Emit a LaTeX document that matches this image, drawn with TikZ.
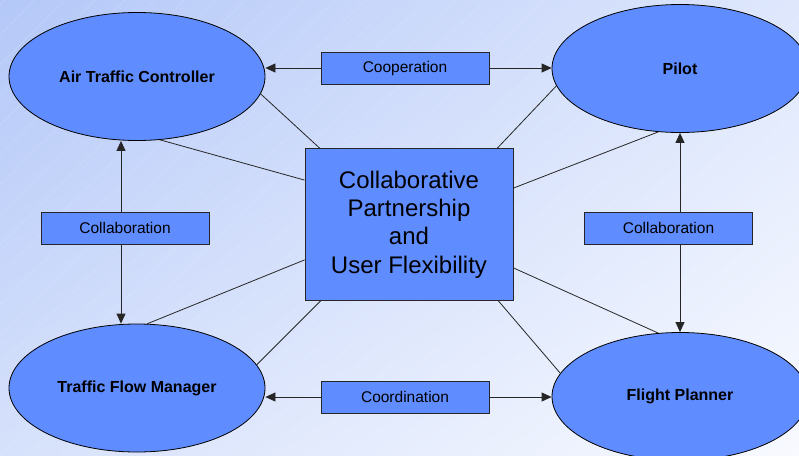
\documentclass[tikz,border=0pt]{standalone}
\usepackage{fontspec}
\setmainfont{Liberation Sans}
\usetikzlibrary{shapes.geometric,arrows.meta,calc,shadings}
\definecolor{nodefill}{RGB}{95,140,255}
\definecolor{bgUL}{RGB}{180,200,248}
\definecolor{bgUR}{RGB}{222,231,252}
\definecolor{bgLL}{RGB}{214,225,251}
\definecolor{bgLR}{RGB}{248,250,255}
\tikzset{
  role/.style={ellipse, draw=black, line width=0.8pt, fill=nodefill, minimum width=256pt, minimum height=128pt, inner sep=0pt, font=\fontsize{16}{18}\selectfont\bfseries},
  relbox/.style={rectangle, draw=black!85, line width=0.8pt, fill=nodefill, minimum width=168pt, minimum height=32pt, inner sep=0pt, font=\fontsize{15.5}{18}\selectfont},
  corebox/.style={rectangle, draw=black!85, line width=0.8pt, fill=nodefill, minimum width=208pt, minimum height=152pt, inner sep=0pt, align=center, font=\fontsize{24}{28.3}\selectfont},
  link/.style={draw=black!85, line width=0.8pt},
  arr/.style={link, -{Triangle[length=10pt,width=9pt]}}
}
\begin{document}
\begin{tikzpicture}[x=1pt,y=-1pt]
\useasboundingbox (0,0) rectangle (799,455);
\clip (0,0) rectangle (799,455);
\shade[upper left=bgUL, upper right=bgUR, lower left=bgLL, lower right=bgLR] (0,0) rectangle (799,455);
% faint diagonal texture
\foreach \k in {-450,-420,...,800}{
  \draw[white, opacity=0.18, line width=0.4pt] (\k,455) -- (\k+455,0);
}
% nodes
\node[role] (atc) at (137,76.5) {Air Traffic Controller};
\node[role] (pilot) at (680,68.5) {Pilot};
\node[role] (tfm) at (137,388) {Traffic Flow Manager};
\node[role] (fp) at (680,396.5) {Flight Planner};
\node[corebox] (ctr) at (409,224.5) {Collaborative\\Partnership\\and\\User Flexibility\hspace*{0pt}};
\node[relbox] (coop) at (405,68) {Cooperation};
\node[relbox] (coord) at (405,397) {Coordination};
\node[relbox] (collL) at (125,228) {Collaboration};
\node[relbox] (collR) at (668.5,228) {Collaboration};
% arrows
\draw[arr] (coop.west) -- (coop.west -| atc.east);
\draw[arr] (coop.east) -- (coop.east -| pilot.west);
\draw[arr] (coord.west) -- (coord.west -| tfm.east);
\draw[arr] (coord.east) -- (coord.east -| fp.west);
\draw[arr] ([xshift=-4pt]collL.north) -- ([xshift=-4pt]collL.north |- atc.south);
\draw[arr] ([xshift=-4pt]collL.south) -- ([xshift=-4pt]collL.south |- tfm.north);
\draw[arr] (collR.north -| pilot.south) -- (pilot.south);
\draw[arr] (collR.south -| fp.north) -- (fp.north);
% links to the core
\draw[link] (atc.-8) -- ($(ctr.north west)+(15,0)$);
\draw[link] (atc.-70) -- ($(ctr.north west)+(0,32)$);
\draw[link] (pilot.188) -- ($(ctr.north east)+(-16,0)$);
\draw[link] (pilot.251) -- ($(ctr.north east)+(0,40)$);
\draw[link] (tfm.81) -- ($(ctr.south west)+(0,-41)$);
\draw[link] (tfm.11) -- ($(ctr.south west)+(16,0)$);
\draw[link] (fp.109) -- ($(ctr.south east)+(0,-33)$);
\draw[link] (fp.169) -- ($(ctr.south east)+(-15,0)$);
\end{tikzpicture}
\end{document}
